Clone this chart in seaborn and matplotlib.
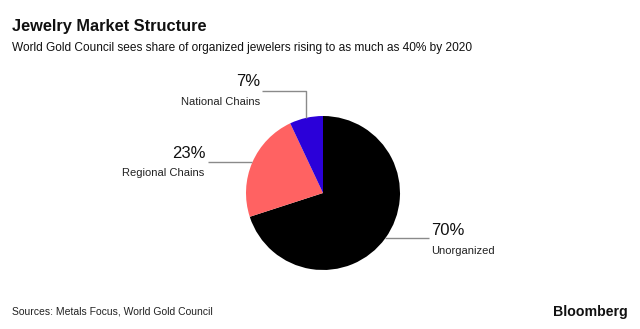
import numpy as np
import matplotlib
matplotlib.use("Agg")
import matplotlib.pyplot as plt
import seaborn as sns
from matplotlib import font_manager

# Market share by segment (percent), clockwise from 12 o'clock
segments = ["Unorganized", "Regional Chains", "National Chains"]
shares = [70, 23, 7]
colors = ["#000000", "#ff6262", "#2b00d9"]

sns.set_theme(style="white")
plt.rcParams["font.family"] = ["Liberation Sans", "DejaVu Sans"]

installed = {f.name for f in font_manager.fontManager.ttflist}
narrow = "Liberation Sans Narrow" if "Liberation Sans Narrow" in installed else None
print("narrow available:", narrow)

W, H = 640, 329
fig = plt.figure(figsize=(W / 100, H / 100), dpi=100)
fig.patch.set_facecolor("white")

# Pie placed so its centre sits at (323, 193) px with a 77 px radius
cx, cy, r = 323, 193, 77
ax = fig.add_axes([(cx - r) / W, (H - cy - r) / H, 2 * r / W, 2 * r / H])
wedges, _ = ax.pie(shares, colors=colors, startangle=90, counterclock=False,
                   radius=1.0, wedgeprops=dict(linewidth=0))
ax.set_xlim(-1, 1)
ax.set_ylim(-1, 1)
ax.set_axis_off()

line_kw = dict(color="#8a8a8a", lw=1.0, clip_on=False, solid_capstyle="butt")
pct_kw = dict(fontsize=12, color="#111111")
lab_kw = dict(fontsize=8, color="#222222")


def mid_point(w):
    ang = np.deg2rad((w.theta1 + w.theta2) / 2)
    return np.cos(ang), np.sin(ang)

# Unorganized: horizontal leader to the right
x0, y0 = mid_point(wedges[0])
x1 = 1.38
ax.plot([x0, x1], [y0, y0], **line_kw)
ax.text(x1 + 0.02, y0 + 0.1, f"{shares[0]}%", ha="left", va="center", **pct_kw)
ax.text(x1 + 0.02, y0 - 0.16, segments[0], ha="left", va="center", **lab_kw)

# Regional Chains: horizontal leader to the left
x0, y0 = mid_point(wedges[1])
x1 = -1.5
ax.plot([x0, x1], [y0, y0], **line_kw)
ax.text(x1 - 0.03, y0 + 0.12, f"{shares[1]}%", ha="right", va="center", **pct_kw)
ax.text(x1 - 0.04, y0 - 0.14, segments[1], ha="right", va="center", **lab_kw)

# National Chains: elbow leader, up then left
x0, y0 = mid_point(wedges[2])
ytop, x1 = 1.325, -0.79
ax.plot([x0, x0, x1], [y0, ytop, ytop], **line_kw)
ax.text(x1 - 0.03, ytop + 0.12, f"{shares[2]}%", ha="right", va="center", **pct_kw)
ax.text(x1 - 0.03, ytop - 0.14, segments[2], ha="right", va="center", **lab_kw)

# Titles and footer
if narrow:
    head = dict(family=[narrow, "DejaVu Sans"])
    t_size, s_size, f_size = 14, 10, 9
else:
    head = {}
    t_size, s_size, f_size = 11.8, 8.6, 7.5

fig.text(12 / W, 1 - 27 / H, "Jewelry Market Structure", fontsize=t_size,
         fontweight="bold", color="#111111", ha="left", va="center", **head)
fig.text(12 / W, 1 - 48 / H,
         "World Gold Council sees share of organized jewelers rising to as much as 40% by 2020",
         fontsize=s_size, color="#111111", ha="left", va="center", **head)
fig.text(12 / W, 1 - 311 / H, "Sources: Metals Focus, World Gold Council",
         fontsize=f_size, color="#222222", ha="left", va="center", **head)
fig.text(628 / W, 1 - 312 / H, "Bloomberg", fontsize=10.2, fontweight="bold",
         color="#111111", ha="right", va="center")

fig.savefig("out.png", dpi=100, facecolor="white")
